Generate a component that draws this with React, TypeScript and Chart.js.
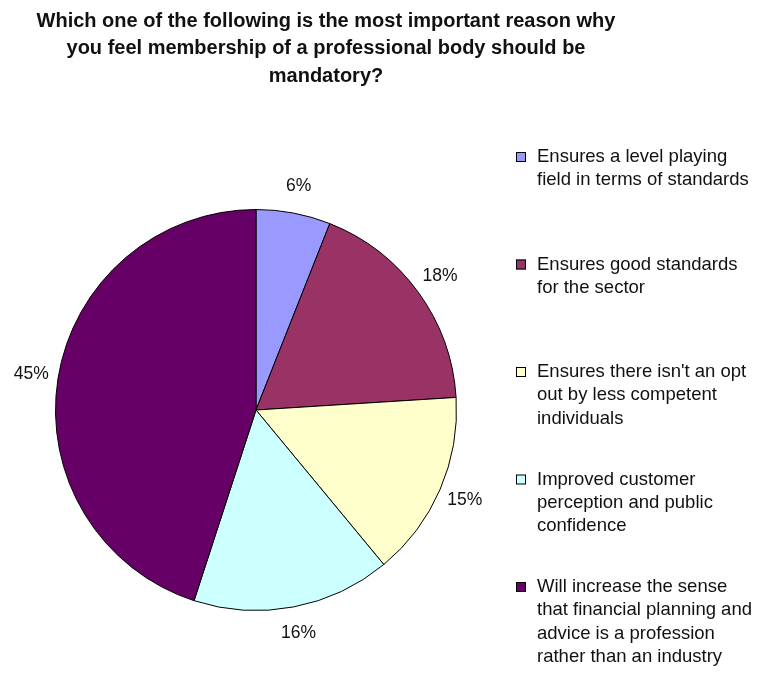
import React, { useEffect, useRef } from "react";
import { Chart, registerables } from "chart.js";

Chart.register(...registerables);

const titleLines = [
  "Which one of the following is the most important reason why",
  "you feel membership of a professional body should be",
  "mandatory?",
];

const categories = [
  ["Ensures a level playing", "field in terms of standards"],
  ["Ensures good standards", "for the sector"],
  ["Ensures there isn't an opt", "out by less competent", "individuals"],
  ["Improved customer", "perception and public", "confidence"],
  ["Will increase the sense", "that financial planning and", "advice is a profession", "rather than an industry"],
];

const values = [6, 18, 15, 16, 45];
const valueLabels = ["6%", "18%", "15%", "16%", "45%"];
const colors = ["#9999FF", "#993366", "#FFFFCC", "#CCFFFF", "#660066"];

const FONT = '"Liberation Sans", Arial, sans-serif';

const overlayPlugin = {
  id: "overlay",
  afterDraw(chart: any) {
    const ctx = chart.ctx as CanvasRenderingContext2D;
    ctx.save();
    // Title
    ctx.fillStyle = "#111";
    ctx.font = `bold 20px ${FONT}`;
    ctx.textAlign = "center";
    ctx.textBaseline = "middle";
    titleLines.forEach((t, i) => ctx.fillText(t, 326, 21 + i * 27.5));

    // Percentage labels
    const meta = chart.getDatasetMeta(0);
    ctx.font = `17.5px ${FONT}`;
    meta.data.forEach((arc: any, i: number) => {
      const mid = (arc.startAngle + arc.endAngle) / 2;
      const r = arc.outerRadius + 27;
      const x = arc.x + Math.cos(mid) * r;
      const y = arc.y + Math.sin(mid) * r;
      ctx.fillText(valueLabels[i], x, y);
    });

    // Legend
    ctx.textAlign = "left";
    ctx.font = `18.5px ${FONT}`;
    categories.forEach((lines, i) => {
      const y0 = 157 + i * 107.5;
      ctx.fillStyle = colors[i];
      ctx.fillRect(516, y0 - 5, 10, 10);
      ctx.strokeStyle = "#000";
      ctx.lineWidth = 1;
      ctx.strokeRect(516.5, y0 - 4.5, 9, 9);
      ctx.fillStyle = "#111";
      lines.forEach((ln, j) => ctx.fillText(ln, 537, y0 + j * 23.3));
    });
    ctx.restore();
  },
};

export default function App() {
  const ref = useRef<HTMLCanvasElement | null>(null);
  useEffect(() => {
    if (!ref.current) return;
    const chart = new Chart(ref.current, {
      type: "pie",
      data: {
        labels: categories.map((c) => c.join(" ")),
        datasets: [
          {
            data: values,
            backgroundColor: colors,
            borderColor: "#000",
            borderWidth: 1,
          },
        ],
      },
      options: {
        responsive: false,
        animation: false,
        devicePixelRatio: 1,
        layout: { padding: { left: 55, top: 209, right: 305, bottom: 62 } },
        plugins: {
          legend: { display: false },
          title: { display: false },
          tooltip: { enabled: false },
        },
      },
      plugins: [overlayPlugin],
    });
    return () => chart.destroy();
  }, []);
  return (
    <div style={{ position: "absolute", left: 0, top: 0, width: 762, height: 673, background: "#fff" }}>
      <canvas ref={ref} width={762} height={673} />
    </div>
  );
}
